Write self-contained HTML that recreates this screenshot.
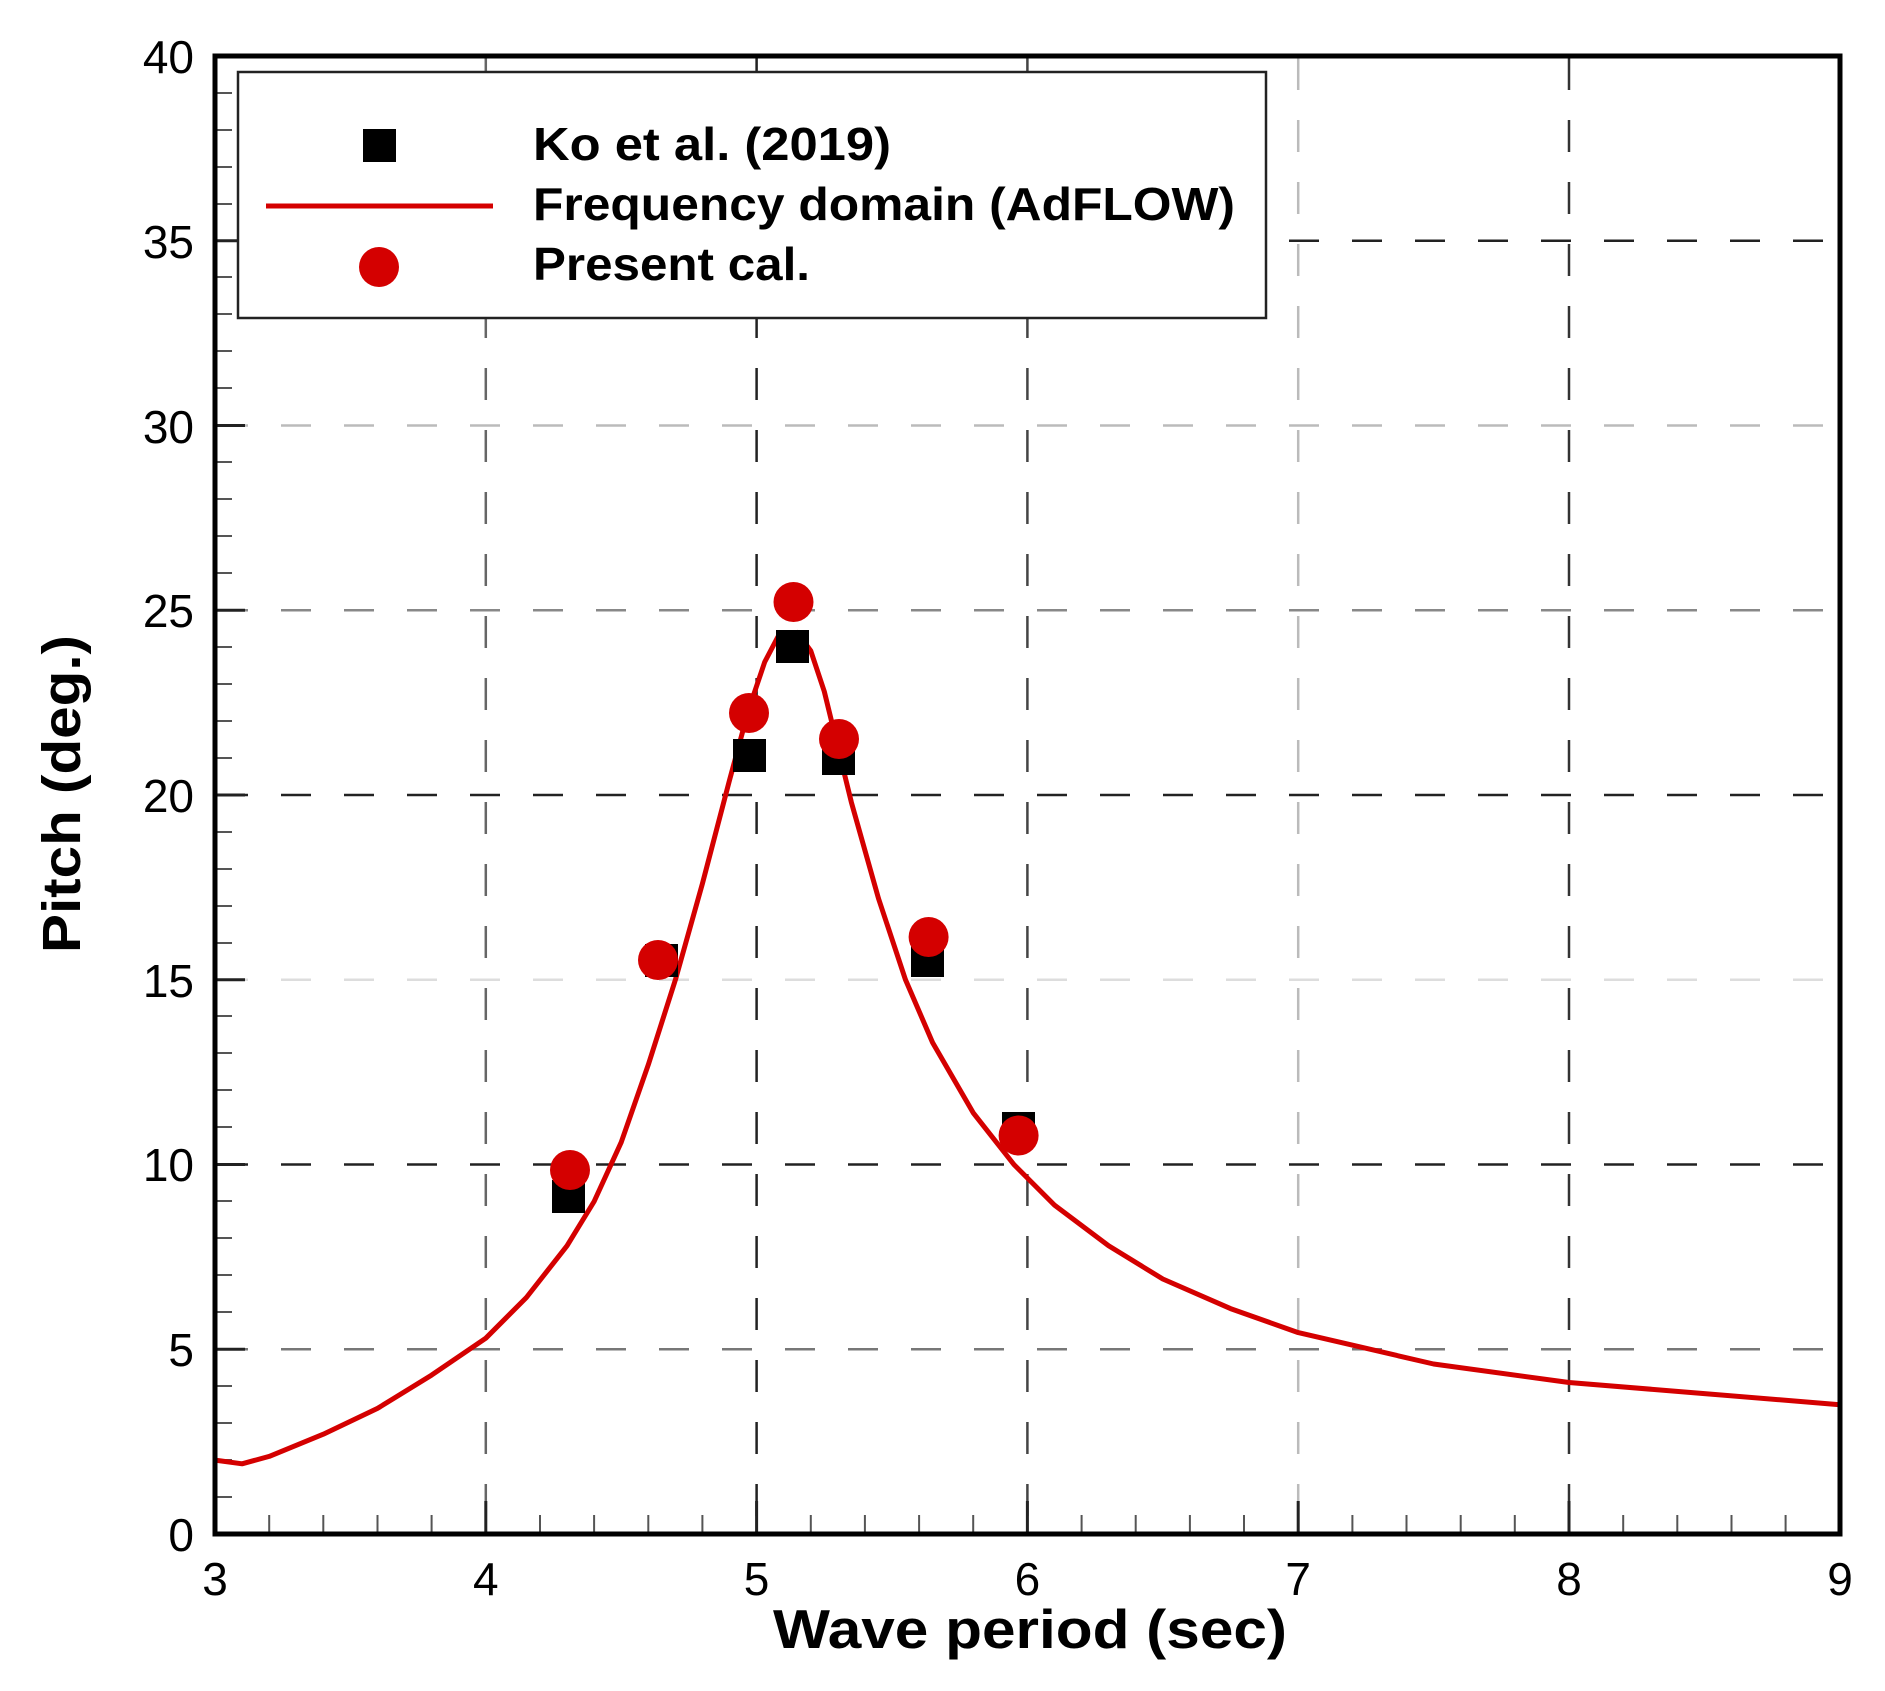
<!DOCTYPE html>
<html><head><meta charset="utf-8"><style>html,body{margin:0;padding:0;background:#fff}svg{display:block}</style></head>
<body>
<svg width="1885" height="1691" viewBox="0 0 1885 1691" xmlns="http://www.w3.org/2000/svg" font-family="Liberation Sans, Arial, sans-serif">
<rect width="1885" height="1691" fill="#fff"/>
<g stroke-width="2.5" stroke-dasharray="30 33" fill="none">
<line x1="218" y1="1349.25" x2="1838" y2="1349.25" stroke="#777"/>
<line x1="218" y1="1164.5" x2="1838" y2="1164.5" stroke="#222"/>
<line x1="218" y1="979.75" x2="1838" y2="979.75" stroke="#ddd"/>
<line x1="218" y1="795" x2="1838" y2="795" stroke="#222"/>
<line x1="218" y1="610.25" x2="1838" y2="610.25" stroke="#888"/>
<line x1="218" y1="425.5" x2="1838" y2="425.5" stroke="#bbb"/>
<line x1="218" y1="240.75" x2="1838" y2="240.75" stroke="#222"/>
</g>
<g stroke-width="2.5" stroke-dasharray="32 30" fill="none">
<line x1="485.8" y1="58" x2="485.8" y2="1532" stroke="#666"/>
<line x1="756.6" y1="58" x2="756.6" y2="1532" stroke="#222"/>
<line x1="1027.4" y1="58" x2="1027.4" y2="1532" stroke="#444"/>
<line x1="1298.2" y1="58" x2="1298.2" y2="1532" stroke="#bbb"/>
<line x1="1569" y1="58" x2="1569" y2="1532" stroke="#333"/>
</g>
<g stroke="#222" stroke-width="3">
<path d="M215 1349.25h30M215 1164.5h30M215 979.75h30M215 795h30M215 610.25h30M215 425.5h30M215 240.75h30"/>
<path d="M485.8 1534v-33M756.6 1534v-33M1027.4 1534v-33M1298.2 1534v-33M1569 1534v-33"/>
</g>
<g stroke="#555" stroke-width="2">
<path d="M215 1497h17M215 1460h17M215 1423h17M215 1386h17M215 1312h17M215 1275h17M215 1238h17M215 1201h17M215 1127h17M215 1090h17M215 1053h17M215 1016h17M215 943h17M215 906h17M215 869h17M215 832h17M215 758h17M215 721h17M215 684h17M215 647h17M215 573h17M215 536h17M215 499h17M215 462h17M215 388h17M215 351h17M215 314h17M215 277h17M215 204h17M215 167h17M215 130h17M215 93h17"/>
<path d="M269.2 1534v-19M323.3 1534v-19M377.5 1534v-19M431.6 1534v-19M540 1534v-19M594.1 1534v-19M648.3 1534v-19M702.4 1534v-19M810.8 1534v-19M864.9 1534v-19M919.1 1534v-19M973.2 1534v-19M1081.6 1534v-19M1135.7 1534v-19M1189.9 1534v-19M1244 1534v-19M1352.4 1534v-19M1406.5 1534v-19M1460.7 1534v-19M1514.8 1534v-19M1623.2 1534v-19M1677.3 1534v-19M1731.5 1534v-19M1785.6 1534v-19"/>
</g>
<rect x="238" y="72" width="1028" height="246" fill="#fff" stroke="#222" stroke-width="2.5"/>
<rect x="363" y="129" width="33" height="33" fill="#000"/>
<line x1="266" y1="206" x2="493" y2="206" stroke="#d40000" stroke-width="5"/>
<circle cx="379" cy="267" r="20" fill="#d40000"/>
<g font-weight="bold" font-size="46" fill="#000">
<text x="533" y="160" textLength="358" lengthAdjust="spacingAndGlyphs">Ko et al. (2019)</text>
<text x="533" y="220" textLength="702" lengthAdjust="spacingAndGlyphs">Frequency domain (AdFLOW)</text>
<text x="533" y="280" textLength="277" lengthAdjust="spacingAndGlyphs">Present cal.</text>
</g>
<polyline fill="none" stroke="#d40000" stroke-width="5" stroke-linejoin="round" stroke-linecap="round" points="215,1460.1 242.1,1463.8 269.2,1456.4 323.3,1434.2 377.5,1408.4 431.6,1375.1 485.8,1338.2 526.4,1297.5 567,1245.8 594.1,1201.5 621.2,1142.3 648.3,1064.7 675.4,979.8 702.4,883.7 729.5,780.2 748.5,710 764.7,662 778.3,636.1 797.2,632.4 810.8,650.9 824.3,691.5 837.8,746.9 851.4,802.4 878.5,898.5 905.5,979.8 932.6,1042.6 973.2,1112.8 1013.9,1164.5 1054.5,1205.1 1108.6,1245.8 1162.8,1279 1230.5,1308.6 1298.2,1332.6 1433.6,1364 1569,1382.5 1704.4,1393.6 1839.8,1404.7"/>
<g fill="#000">
<rect x="552" y="1180" width="33" height="33"/>
<rect x="645" y="944" width="33" height="33"/>
<rect x="733" y="739" width="33" height="33"/>
<rect x="776" y="630" width="33" height="33"/>
<rect x="822" y="742" width="33" height="33"/>
<rect x="911" y="944" width="33" height="33"/>
<rect x="1002" y="1112" width="33" height="33"/>
</g>
<g fill="#d40000">
<circle cx="570" cy="1170" r="20"/>
<circle cx="658" cy="960" r="20"/>
<circle cx="749" cy="713" r="20"/>
<circle cx="793.5" cy="602" r="20"/>
<circle cx="839" cy="739" r="20"/>
<circle cx="928.6" cy="937" r="20"/>
<circle cx="1018.6" cy="1135.5" r="20"/>
</g>
<rect x="215" y="56" width="1625" height="1478" fill="none" stroke="#000" stroke-width="5"/>
<g font-size="46" fill="#000" text-anchor="end">
<text x="194" y="1551">0</text>
<text x="194" y="1366">5</text>
<text x="194" y="1181">10</text>
<text x="194" y="997">15</text>
<text x="194" y="812">20</text>
<text x="194" y="627">25</text>
<text x="194" y="443">30</text>
<text x="194" y="258">35</text>
<text x="194" y="73">40</text>
</g>
<g font-size="46" fill="#000" text-anchor="middle">
<text x="215" y="1595">3</text>
<text x="485.8" y="1595">4</text>
<text x="756.6" y="1595">5</text>
<text x="1027.4" y="1595">6</text>
<text x="1298.2" y="1595">7</text>
<text x="1569" y="1595">8</text>
<text x="1840" y="1595">9</text>
</g>
<text x="773" y="1648" font-size="55" font-weight="bold" textLength="514" lengthAdjust="spacingAndGlyphs">Wave period (sec)</text>
<text transform="translate(80,953) rotate(-90)" font-size="54" font-weight="bold" textLength="318" lengthAdjust="spacingAndGlyphs">Pitch (deg.)</text>
</svg>
</body></html>
